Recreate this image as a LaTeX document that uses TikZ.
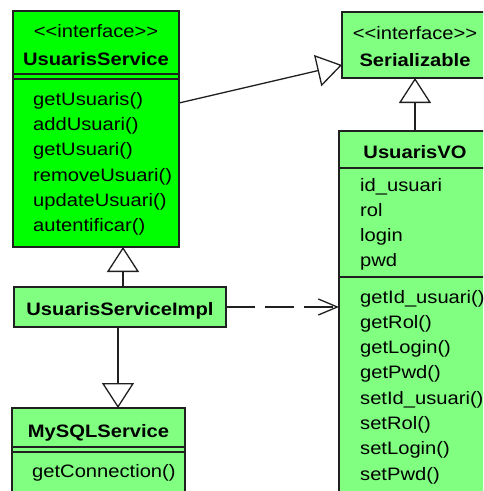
\documentclass[tikz,border=0pt]{standalone}
\usepackage{fontspec}
\setmainfont{Liberation Sans}[FakeStretch=1.12]
\usetikzlibrary{arrows.meta}
\definecolor{brightgreen}{HTML}{00FF00}
\definecolor{lightgreen}{HTML}{80FF80}
\definecolor{linegray}{HTML}{202020}
\tikzset{
  umlbox/.style={draw=linegray, line width=1.3pt, anchor=north west, inner sep=0pt, outer sep=0pt, rectangle},
  iface/.style={umlbox, fill=brightgreen},
  cls/.style={umlbox, fill=lightgreen},
  sepline/.style={draw=linegray, line width=1.3pt},
  lbl/.style={anchor=base west, inner sep=0pt, font=\fontsize{18}{20}\selectfont},
  ttl/.style={anchor=base, inner sep=0pt, font=\fontsize{18}{20}\selectfont\bfseries},
  stereo/.style={anchor=base, inner sep=0pt, font=\fontsize{18}{20}\selectfont},
  gen/.style={line width=1.3pt, draw=linegray, line join=miter, -{Triangle[open, length=25pt, width=32pt, fill=white]}},
  dep/.style={line width=1.3pt, draw=linegray, dash pattern=on 29pt off 10pt, -{Straight Barb[length=19pt, width=16pt]}}
}
\newcommand{\stereotxt}{<\kern0pt<interface>\kern0pt>}
\begin{document}
\begin{tikzpicture}[x=1pt,y=-1pt]
\useasboundingbox (0,0) rectangle (483,491);
\fill[white] (0,0) rectangle (483,491);
\clip (0,0) rectangle (483,491);

% boxes
\node[iface, minimum width=166pt, minimum height=236pt] (us) at (13,11) {};
\node[cls, minimum width=146pt, minimum height=66pt] (ser) at (342,12) {};
\node[cls, minimum width=152pt, minimum height=380pt] (vo) at (339,131) {};
\node[cls, minimum width=212pt, minimum height=40pt] (impl) at (14,287) {};
\node[cls, minimum width=173pt, minimum height=100pt] (my) at (12,408) {};

% separators
\draw[sepline] (us.west |- 0,74) -- (us.east |- 0,74);
\draw[sepline] (us.west |- 0,79) -- (us.east |- 0,79);
\draw[sepline] (vo.west |- 0,168) -- (vo.east |- 0,168);
\draw[sepline] (vo.west |- 0,277) -- (vo.east |- 0,277);
\draw[sepline] (my.west |- 0,447) -- (my.east |- 0,447);
\draw[sepline] (my.west |- 0,452) -- (my.east |- 0,452);

% UsuarisService texts
\node[stereo] (usS) at (96,37.5) {\stereotxt};
\node[ttl] (usT) at (96,65) {UsuarisService};
\node[lbl] (usM1) at (33,105.5) {getUsuaris()};
\node[lbl] (usM2) at (33,130.7) {addUsuari()};
\node[lbl] (usM3) at (33,155.9) {getUsuari()};
\node[lbl] (usM4) at (33,181.1) {removeUsuari()};
\node[lbl] (usM5) at (33,206.3) {updateUsuari()};
\node[lbl] (usM6) at (33,231.5) {autentificar()};

% Serializable texts
\node[stereo] (serS) at (415,39) {\stereotxt};
\node[ttl] (serT) at (415,66) {Serializable};

% UsuarisVO texts
\node[ttl] (voT) at (415,158) {UsuarisVO};
\node[lbl] (voA1) at (360,191) {id\_usuari};
\node[lbl] (voA2) at (360,216.3) {rol};
\node[lbl] (voA3) at (360,241.6) {login};
\node[lbl] (voA4) at (360,266.9) {pwd};
\node[lbl] (voM1) at (360,303) {getId\_usuari()};
\node[lbl] (voM2) at (360,328.3) {getRol()};
\node[lbl] (voM3) at (360,353.6) {getLogin()};
\node[lbl] (voM4) at (360,378.9) {getPwd()};
\node[lbl] (voM5) at (360,404.2) {setId\_usuari()};
\node[lbl] (voM6) at (360,429.5) {setRol()};
\node[lbl] (voM7) at (360,454.8) {setLogin()};
\node[lbl] (voM8) at (360,480.1) {setPwd()};

% UsuarisServiceImpl text
\node[ttl] (implT) at (120,315) {UsuarisServiceImpl};

% MySQLService texts
\node[ttl] (myT) at (98.5,437) {MySQLService};
\node[lbl] (myM1) at (32,477) {getConnection()};

% connectors
\draw[gen] (us.east |- 0,103) -- (ser.west |- 0,65);
\draw[gen] (vo.north) -- (ser.south);
\draw[gen] (impl.north -| 123,0) -- (us.south -| 123,0);
\draw[gen] (impl.south -| 118,0) -- (my.north -| 118,0);
\draw[dep] (impl.east) -- (vo.west |- impl.east);
\end{tikzpicture}
\end{document}
